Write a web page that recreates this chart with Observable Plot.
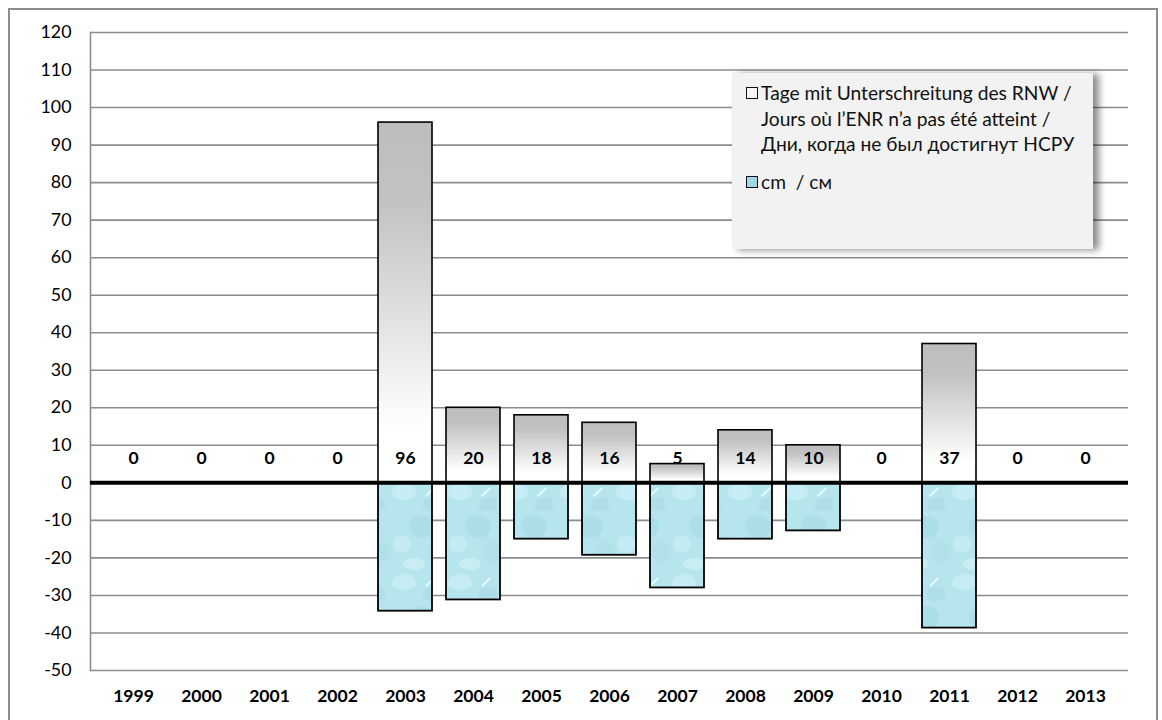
<!DOCTYPE html>
<html>
<head>
<meta charset="utf-8">
<script src="https://cdn.jsdelivr.net/npm/d3@7"></script>
<script src="https://cdn.jsdelivr.net/npm/@observablehq/plot@0.6"></script>
<style>
  html, body { margin: 0; padding: 0; background: #fff; }
  #wrap { position: relative; width: 1162px; height: 720px; overflow: hidden; font-family: Lato, "Open Sans", sans-serif; }
  #frame { position: absolute; left: 8px; top: 8px; width: 1150px; height: 716px; border: 2px solid #8c8c8c; box-sizing: border-box; pointer-events: none; }
  #legend { position: absolute; left: 732px; top: 73px; width: 361px; height: 176px; background: #f2f2f2;
            box-shadow: 6px 1px 7px rgba(0,0,0,0.45); box-sizing: border-box; padding: 7px 0 0 14px; font-size: 19.2px; color: #111; line-height: 25.5px; }
  .item { display: flex; align-items: flex-start; }
  .sw { width: 10px; height: 10px; border: 1.6px solid #111; margin: 7px 3px 0 0; flex: none; }
</style>
</head>
<body>
<div id="wrap">
  <div id="chart"></div>
  <div id="legend">
    <div class="item"><div class="sw" style="background:#f4f4f4"></div><div>Tage mit Unterschreitung des RNW /<br>Jours où l’ENR n’a pas été atteint /<br>Дни, когда не был достигнут НСРУ</div></div>
    <div class="item" style="margin-top:12px"><div class="sw" style="background:#9fd8e4"></div><div>cm &nbsp;/ см</div></div>
  </div>
  <div id="frame"></div>
</div>
<script>
const years = ["1999","2000","2001","2002","2003","2004","2005","2006","2007","2008","2009","2010","2011","2012","2013"];
const days = [0, 0, 0, 0, 96, 20, 18, 16, 5, 14, 10, 0, 37, 0, 0];
const cm = [0, 0, 0, 0, -34.2, -31.2, -15, -19.3, -28, -15, -12.8, 0, -38.7, 0, 0];
const yTicks = [120, 110, 100, 90, 80, 70, 60, 50, 40, 30, 20, 10, 0, -10, -20, -30, -40, -50];

const daysData = years.map((y, i) => ({year: y, v: days[i]}));
const cmData = years.map((y, i) => ({year: y, v: cm[i]})).filter(d => d.v !== 0);
const posData = daysData.filter(d => d.v !== 0);

const defs = () => {
  const ns = "http://www.w3.org/2000/svg";
  const g = document.createElementNS(ns, "defs");
  g.innerHTML = `
    <linearGradient id="gGray" x1="0" y1="0" x2="0" y2="1">
      <stop offset="0" stop-color="#bdbdbd"/>
      <stop offset="0.22" stop-color="#c2c2c2"/>
      <stop offset="0.85" stop-color="#ffffff"/>
      <stop offset="1" stop-color="#ffffff"/>
    </linearGradient>
    <pattern id="pWater" patternUnits="userSpaceOnUse" width="56" height="90" x="0" y="482">
      <rect width="56" height="90" fill="#b6e5ee"/>
      <ellipse cx="12" cy="10" rx="12" ry="8" fill="#cff2f7" opacity="0.7"/>
      <ellipse cx="40" cy="22" rx="10" ry="7" fill="#a3d6e1" opacity="0.4"/>
      <ellipse cx="30" cy="45" rx="13" ry="11" fill="#9bd0dc" opacity="0.35"/>
      <ellipse cx="10" cy="62" rx="9" ry="8" fill="#cdf0f5" opacity="0.7"/>
      <ellipse cx="45" cy="70" rx="9" ry="10" fill="#a8d9e4" opacity="0.4"/>
      <ellipse cx="22" cy="82" rx="11" ry="6" fill="#d3f3f7" opacity="0.6"/>
      <line x1="34" y1="14" x2="42" y2="6" stroke="#e6fafc" stroke-width="2"/>
    </pattern>`;
  return g;
};

const fmt = d => String(d);

const plot = Plot.plot({
  width: 1162,
  height: 720,
  marginLeft: 90,
  marginRight: 34,
  marginTop: 32,
  marginBottom: 50,
  style: {fontFamily: "Lato, 'Open Sans', sans-serif", background: "transparent"},
  x: {domain: years, padding: 0.205, label: null},
  y: {domain: [-50, 120], label: null},
  marks: [
    defs,
    Plot.ruleY(yTicks, {stroke: "#8c8c8c", strokeWidth: 1.6, strokeOpacity: 1}),
    Plot.frame({anchor: "left", stroke: "#8c8c8c", strokeWidth: 1.6, strokeOpacity: 1}),
    Plot.barY(posData, {x: "year", y: "v", fill: "url(#gGray)", stroke: "#000", strokeWidth: 1.6}),
    Plot.barY(cmData, {x: "year", y: "v", fill: "url(#pWater)", stroke: "#000", strokeWidth: 1.8}),
    Plot.ruleY([0], {stroke: "#000", strokeWidth: 4}),
    Plot.text(daysData, {x: "year", y: () => 0, text: d => String(d.v), dy: -24, fontWeight: "bold", fontSize: 17.5, fill: "#000"}),
    Plot.axisX({tickSize: 0, tickPadding: 19, fontSize: 17.5, fontWeight: "bold", fill: "#000", label: null}),
    Plot.axisY({ticks: yTicks, tickFormat: fmt, tickSize: 0, tickPadding: 19, fontSize: 17.8, fill: "#000", label: null})
  ]
});
document.getElementById("chart").appendChild(plot);
</script>
</body>
</html>
